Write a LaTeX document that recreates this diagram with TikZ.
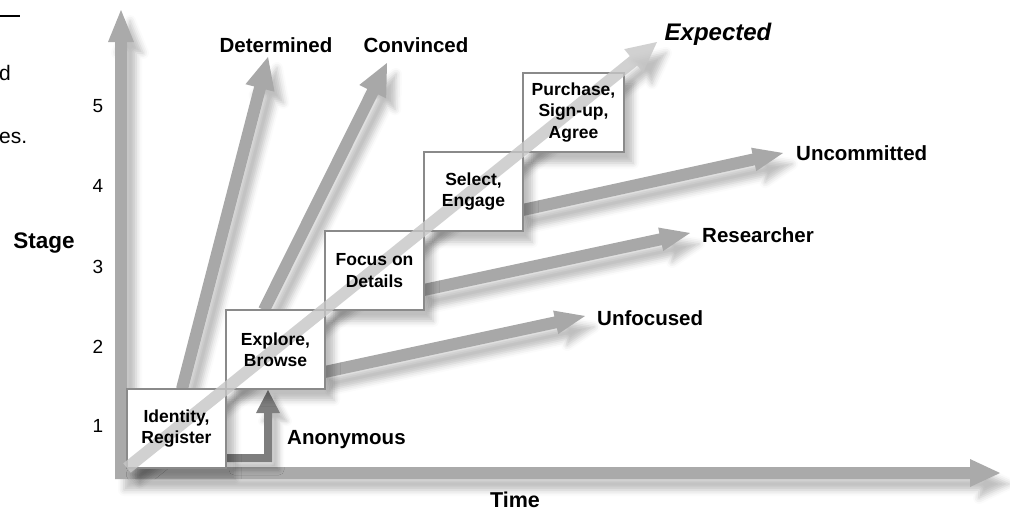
\documentclass[tikz,border=0pt]{standalone}
\usepackage{fontspec}
\setmainfont{Liberation Sans}
\usetikzlibrary{calc,shadows.blur}

\definecolor{arrowgrey}{HTML}{A8A8A8}
\definecolor{axisgrey}{HTML}{AAAAAA}
\definecolor{pathgrey}{HTML}{C6C6C6}
\definecolor{anongrey}{HTML}{7E7E7E}
\definecolor{boxline}{HTML}{8A8A8A}

\tikzset{
  softshadow/.style={blur shadow={shadow xshift=9pt, shadow yshift=-11pt,
      shadow blur radius=6pt, shadow opacity=25}},
  fatgrey/.style={fill=arrowgrey, softshadow},
  axisarrow/.style={fill=axisgrey, softshadow},
  anonarrow/.style={fill=anongrey, blur shadow={shadow xshift=7pt,
      shadow yshift=-8pt, shadow blur radius=5pt, shadow opacity=25}},
  bandshadow/.style={softshadow},
  bandfill/.style={fill=pathgrey, fill opacity=0.8},
  stagebox/.style={draw=boxline, line width=1.7pt, fill=white,
      minimum width=99pt, minimum height=79pt, inner sep=0pt, softshadow},
  boxtext/.style={font=\fontsize{17.5}{21.5}\selectfont\bfseries, align=center,
      inner sep=0pt},
  outlabel/.style={font=\fontsize{20.5}{24}\selectfont\bfseries, anchor=base,
      inner sep=0pt},
  ticklabel/.style={font=\fontsize{19}{22}\selectfont, anchor=base, inner sep=0pt},
  fragtext/.style={font=\fontsize{21}{25}\selectfont, anchor=base west, inner sep=0pt},
}

% wide block arrow: style, start, tip, shaft half-width, head half-width, head length
\newcommand\fatarrow[6]{%
  \coordinate (fa-h) at ($(#3)!#6!(#2)$);
  \path[#1] ($(#2)!#4!90:(#3)$) -- ($(fa-h)!#4!90:(#3)$) -- ($(fa-h)!#5!90:(#3)$)
    -- (#3) -- ($(fa-h)!#5!-90:(#3)$) -- ($(fa-h)!#4!-90:(#3)$)
    -- ($(#2)!#4!-90:(#3)$) -- cycle;
}

\begin{document}
\begin{tikzpicture}[x=1pt,y=-1pt]
\useasboundingbox (0,0) rectangle (1010,512);

% text fragments at the left margin
\draw[line width=1.2pt] (0,16) -- (20,16);
\node[fragtext] (fragA) at (-1,80) {d};
\node[fragtext] (fragB) at (-1,143) {es.};

% axes
\coordinate (orig) at (121,473);
\coordinate (ytip) at (121,10);
\coordinate (xtip) at (1000,473);
\path[axisarrow] (115,479) -- (115,42) -- (108,42) -- (ytip) -- (134,42) -- (127,42)
  -- (127,467) -- (970,467) -- (970,459) -- (xtip) -- (970,487) -- (970,479) -- cycle;

% box positions (drawn later, above the arrows)
\coordinate (c1) at (176.5,428.5);
\coordinate (c2) at (275.5,349.5);
\coordinate (c3) at (374.5,270.5);
\coordinate (c4) at (473.5,191.5);
\coordinate (c5) at (573.5,112.5);

% branch arrows leaving the stages
\coordinate (detS) at (182,389);
\coordinate (detT) at (268,57);
\coordinate (conS) at (264,310);
\coordinate (conT) at (387,63);
\coordinate (unfS) at (320,373);
\coordinate (unfT) at (585,316);
\coordinate (resS) at (419,291);
\coordinate (resT) at (690,233);
\coordinate (uncS) at (518,211);
\coordinate (uncT) at (783,153);
\fatarrow{fatgrey}{detS}{detT}{6pt}{15pt}{32pt}
\fatarrow{fatgrey}{conS}{conT}{6pt}{15pt}{32pt}
\fatarrow{fatgrey}{unfS}{unfT}{6pt}{12pt}{30pt}
\fatarrow{fatgrey}{resS}{resT}{6pt}{12pt}{30pt}
\fatarrow{fatgrey}{uncS}{uncT}{6pt}{12pt}{30pt}

% anonymous visitors step up into browsing
\coordinate (anoS) at (227,458);
\coordinate (anoT) at (268,390);
\path[anonarrow] (anoS |- 0,454) -- (264,454) -- (264,413) -- (256,413) -- (anoT)
  -- (280,413) -- (272,413) -- (272,462) -- (anoS |- 0,462) -- cycle;

% shadow of the expected path
\coordinate (expS) at (127,468);
\coordinate (expT) at (657,42);
\fatarrow{bandshadow}{expS}{expT}{6pt}{15pt}{30pt}

% stage boxes
\node[stagebox] (b1) at (c1) {};
\node[stagebox] (b2) at (c2) {};
\node[stagebox] (b3) at (c3) {};
\node[stagebox] (b4) at (c4) {};
\node[stagebox, minimum width=101pt] (b5) at (c5) {};

% expected path across the stages
\fatarrow{bandfill}{expS}{expT}{6pt}{15pt}{30pt}

% stage texts
\node[boxtext] (t1) at (b1.center) {Identity,\\Register};
\node[boxtext] (t2) at (b2.center) {Explore,\\Browse};
\node[boxtext] (t3) at (b3.center) {Focus on\\Details};
\node[boxtext] (t4) at (b4.center) {Select,\\Engage};
\node[boxtext] (t5) at (b5.center) {Purchase,\\Sign-up,\\Agree};

% outcome labels
\node[outlabel] (lDet) at (276,52) {Determined};
\node[outlabel] (lCon) at (416,52) {Convinced};
\node[outlabel, font=\fontsize{24}{28}\selectfont\bfseries\itshape] (lExp) at (718,40) {Expected};
\node[outlabel, anchor=base west] (lUnc) at (796,160) {Uncommitted};
\node[outlabel, anchor=base west] (lRes) at (702,242) {Researcher};
\node[outlabel, anchor=base west] (lUnf) at (597,325) {Unfocused};
\node[outlabel, anchor=base west] (lAno) at (287,444) {Anonymous};

% axis labels
\node[outlabel, font=\fontsize{22.5}{26}\selectfont\bfseries] (lStage) at (44,248) {Stage};
\node[outlabel, font=\fontsize{21.5}{26}\selectfont\bfseries] (lTime) at (515,507) {Time};
\node[ticklabel] (n5) at (98,112) {5};
\node[ticklabel] (n4) at (98,192) {4};
\node[ticklabel] (n3) at (98,273) {3};
\node[ticklabel] (n2) at (98,353) {2};
\node[ticklabel] (n1) at (98,432) {1};
\end{tikzpicture}
\end{document}
